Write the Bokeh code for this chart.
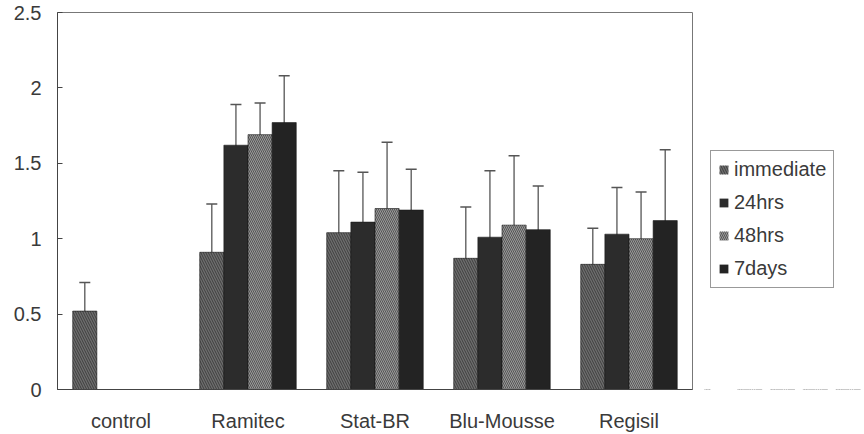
from bokeh.plotting import figure
from bokeh.models import (ColumnDataSource, FactorRange, Range1d, Whisker, TeeHead,
                          Legend, LegendItem, FixedTicker)
from bokeh.transform import dodge
from bokeh.layouts import row
from bokeh.embed import file_html
from bokeh.resources import INLINE

categories = ["control", "Ramitec", "Stat-BR", "Blu-Mousse", "Regisil"]
series_names = ["immediate", "24hrs", "48hrs", "7days"]

immediate = [0.52, 0.91, 1.04, 0.87, 0.83]
immediate_sd = [0.19, 0.32, 0.41, 0.34, 0.24]
hrs24 = [None, 1.62, 1.11, 1.01, 1.03]
hrs24_sd = [None, 0.27, 0.33, 0.44, 0.31]
hrs48 = [None, 1.69, 1.20, 1.09, 1.00]
hrs48_sd = [None, 0.21, 0.44, 0.46, 0.31]
days7 = [None, 1.77, 1.19, 1.06, 1.12]
days7_sd = [None, 0.31, 0.27, 0.29, 0.47]

y_ticks = [0, 0.5, 1, 1.5, 2, 2.5]
y_tick_labels = ["0", "0.5", "1", "1.5", "2", "2.5"]

FONT = "Liberation Sans"
TXT = "#3a3a3a"

xr = FactorRange(factors=categories, range_padding=0)
p = figure(width=700, height=434, x_range=xr,
           y_range=Range1d(0, 2.5), output_backend="svg", toolbar_location=None,
           min_border_left=57, min_border_right=8, min_border_top=12, min_border_bottom=45)
p.background_fill_color = "white"
p.border_fill_color = "white"
p.outline_line_color = "#777777"
p.outline_line_width = 1
p.grid.visible = False

# legend-only figure (its y range lies far above the data, so its glyphs stay out of view)
pl = figure(width=164, height=434, x_range=xr, y_range=Range1d(10, 11),
            x_axis_type=None, y_axis_type=None, output_backend="svg", toolbar_location=None,
            min_border_left=0, min_border_right=0, min_border_top=12, min_border_bottom=45)
pl.outline_line_color = None
pl.grid.visible = False
pl.background_fill_color = "white"
pl.border_fill_color = "white"

styles = [
    dict(fill_color="#6e6e6e", hatch_pattern="\\", hatch_color="#3e3e3e", hatch_scale=5, hatch_weight=1),
    dict(fill_color="#2c2c2c"),
    dict(fill_color="#9a9a9a", hatch_pattern="\\", hatch_color="#555555", hatch_scale=4, hatch_weight=1),
    dict(fill_color="#232323"),
]
offsets = [-0.285, -0.095, 0.095, 0.285]
all_vals = [immediate, hrs24, hrs48, days7]
all_sd = [immediate_sd, hrs24_sd, hrs48_sd, days7_sd]

legend_items = []
for name, vals, sds, off, st in zip(series_names, all_vals, all_sd, offsets, styles):
    cx, top, up, lo = [], [], [], []
    for c, v, s in zip(categories, vals, sds):
        if v is None:
            continue
        cx.append(c)
        top.append(v)
        up.append(v + s)
        lo.append(v - s)
    src = ColumnDataSource(dict(cat=cx, top=top, upper=up, lower=lo))
    p.vbar(x=dodge("cat", off, range=xr), top="top", bottom=0, width=0.19,
           source=src, line_color="#1a1a1a", line_width=0.6, **st)
    w = Whisker(base=dodge("cat", off, range=xr), upper="upper", lower="lower",
                source=src, line_color="#555555", line_width=1.3,
                upper_head=TeeHead(size=11, line_color="#555555", line_width=1.5),
                lower_head=None)
    p.add_layout(w)
    r = pl.vbar(x=dodge("cat", off, range=xr), top="top", bottom="top", width=0.19,
                source=src, line_color=None, **st)
    legend_items.append(LegendItem(label=name, renderers=[r]))

# axes
p.yaxis.ticker = FixedTicker(ticks=y_ticks)
p.yaxis.major_label_overrides = {t: l for t, l in zip(y_ticks, y_tick_labels)}
p.yaxis.major_tick_in = 5
p.yaxis.major_tick_out = 0
p.yaxis.minor_tick_line_color = None
p.yaxis.major_label_standoff = 16
p.yaxis.axis_line_color = "#444444"
p.yaxis.major_tick_line_color = "#444444"

p.xaxis.major_tick_line_color = None
p.xaxis.major_label_standoff = 14
p.xaxis.axis_line_color = "#444444"

for ax in (p.xaxis, p.yaxis):
    ax.major_label_text_font = FONT
    ax.major_label_text_font_size = "20px"
    ax.major_label_text_color = TXT

lg = Legend(items=legend_items, location=(10, 101), orientation="vertical")
lg.label_text_font = FONT
lg.label_text_font_size = "20px"
lg.label_text_color = TXT
lg.glyph_width = 11
lg.glyph_height = 11
lg.label_height = 20
lg.label_standoff = 5
lg.spacing = 10
lg.padding = 7
lg.margin = 0
lg.border_line_color = "#333333"
lg.border_line_width = 1
lg.background_fill_color = "white"
lg.background_fill_alpha = 1
pl.add_layout(lg, "center")

layout = row(p, pl)
open("out.html", "w").write(file_html(layout, INLINE))
